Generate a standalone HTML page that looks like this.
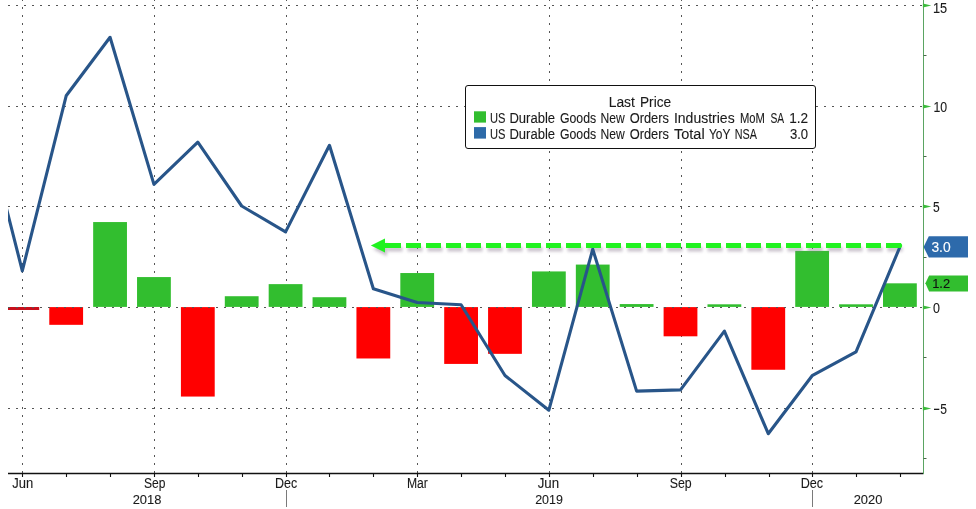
<!DOCTYPE html><html><head><meta charset="utf-8"><style>html,body{margin:0;padding:0;background:#fff;overflow:hidden}svg{display:block;will-change:transform}text{font-family:"Liberation Sans",sans-serif}</style></head><body>
<svg width="976" height="509" viewBox="0 0 976 509">
<defs><clipPath id="plot"><rect x="8" y="0" width="915.5" height="473"/></clipPath><filter id="sh" filterUnits="userSpaceOnUse" x="350" y="225" width="580" height="40"><feGaussianBlur stdDeviation="1.5"/></filter></defs>
<rect x="0" y="0" width="976" height="509" fill="#fff"/>
<line x1="22.5" y1="-1" x2="22.5" y2="473.0" stroke="#555" stroke-width="1" stroke-dasharray="2 6"/>
<line x1="154.5" y1="-1" x2="154.5" y2="473.0" stroke="#555" stroke-width="1" stroke-dasharray="2 6"/>
<line x1="286.5" y1="-1" x2="286.5" y2="473.0" stroke="#555" stroke-width="1" stroke-dasharray="2 6"/>
<line x1="417.5" y1="-1" x2="417.5" y2="473.0" stroke="#555" stroke-width="1" stroke-dasharray="2 6"/>
<line x1="549.5" y1="-1" x2="549.5" y2="473.0" stroke="#555" stroke-width="1" stroke-dasharray="2 6"/>
<line x1="681.5" y1="-1" x2="681.5" y2="473.0" stroke="#555" stroke-width="1" stroke-dasharray="2 6"/>
<line x1="812.5" y1="-1" x2="812.5" y2="473.0" stroke="#555" stroke-width="1" stroke-dasharray="2 6"/>
<g clip-path="url(#plot)">
<rect x="5.40" y="307.00" width="33.80" height="3.00" fill="#c8101c"/>
<rect x="49.28" y="307.10" width="33.80" height="17.73" fill="#ff0000"/>
<rect x="93.16" y="222.06" width="33.80" height="84.84" fill="#32be2f"/>
<rect x="137.04" y="277.07" width="33.80" height="29.83" fill="#32be2f"/>
<rect x="180.92" y="307.10" width="33.80" height="89.46" fill="#ff0000"/>
<rect x="224.80" y="296.22" width="33.80" height="10.68" fill="#32be2f"/>
<rect x="268.68" y="284.13" width="33.80" height="22.77" fill="#32be2f"/>
<rect x="312.56" y="297.22" width="33.80" height="9.68" fill="#32be2f"/>
<rect x="356.44" y="307.10" width="33.80" height="51.38" fill="#ff0000"/>
<rect x="400.32" y="273.04" width="33.80" height="33.86" fill="#32be2f"/>
<rect x="444.20" y="307.10" width="33.80" height="56.82" fill="#ff0000"/>
<rect x="488.08" y="307.10" width="33.80" height="46.74" fill="#ff0000"/>
<rect x="531.96" y="271.43" width="33.80" height="35.47" fill="#32be2f"/>
<rect x="575.84" y="264.58" width="33.80" height="42.32" fill="#32be2f"/>
<rect x="619.72" y="304.07" width="33.80" height="2.83" fill="#32be2f"/>
<rect x="663.60" y="307.10" width="33.80" height="29.21" fill="#ff0000"/>
<rect x="707.48" y="304.30" width="33.80" height="2.60" fill="#32be2f"/>
<rect x="751.36" y="307.10" width="33.80" height="62.66" fill="#ff0000"/>
<rect x="795.24" y="250.88" width="33.80" height="56.02" fill="#32be2f"/>
<rect x="839.12" y="304.30" width="33.80" height="2.60" fill="#32be2f"/>
<rect x="883.00" y="283.32" width="33.80" height="23.58" fill="#32be2f"/>
</g>
<line x1="8.0" y1="5.5" x2="923.5" y2="5.5" stroke="#555" stroke-width="1" stroke-dasharray="2 6"/>
<line x1="8.0" y1="106.5" x2="923.5" y2="106.5" stroke="#555" stroke-width="1" stroke-dasharray="2 6"/>
<line x1="8.0" y1="206.5" x2="923.5" y2="206.5" stroke="#555" stroke-width="1" stroke-dasharray="2 6"/>
<line x1="8.0" y1="307.5" x2="923.5" y2="307.5" stroke="#555" stroke-width="1" stroke-dasharray="2 6"/>
<line x1="8.0" y1="408.5" x2="923.5" y2="408.5" stroke="#555" stroke-width="1" stroke-dasharray="2 6"/>
<g filter="url(#sh)" opacity="0.45"><line x1="387.5" y1="249.3" x2="902.5" y2="249.3" stroke="#8a7890" stroke-width="4.5" stroke-dasharray="15 5"/><polygon points="373,249.3 387,242.4 387,256.2" fill="#8a7890"/></g>
<g clip-path="url(#plot)"><polyline fill="none" stroke="#285589" stroke-width="3.1" stroke-linejoin="round" points="0.00,183.00 22.30,270.80 66.18,95.80 110.06,37.30 153.94,184.40 197.82,142.20 241.70,206.00 285.58,231.90 329.46,145.30 373.34,288.80 417.22,302.50 461.10,304.70 504.98,375.50 548.86,410.20 592.74,249.20 636.62,391.10 680.50,389.90 724.38,331.10 768.26,433.70 812.14,375.70 856.02,351.80 899.90,247.00"/></g>
<line x1="386" y1="245.5" x2="901" y2="245.5" stroke="#20f220" stroke-width="5.2" stroke-dasharray="15 5"/>
<circle cx="899.5" cy="245.5" r="2.6" fill="#20f220"/>
<polygon points="370.9,245.5 385,238.6 385,242.9 386.5,242.9 386.5,248.1 385,248.1 385,252.4" fill="#20f220"/>
<line x1="8.0" y1="473.5" x2="923.5" y2="473.5" stroke="#111" stroke-width="1.4"/>
<line x1="22.5" y1="473.5" x2="22.5" y2="477" stroke="#111" stroke-width="1.1"/>
<line x1="66.5" y1="473.5" x2="66.5" y2="477" stroke="#111" stroke-width="1.1"/>
<line x1="110.5" y1="473.5" x2="110.5" y2="477" stroke="#111" stroke-width="1.1"/>
<line x1="154.5" y1="473.5" x2="154.5" y2="477" stroke="#111" stroke-width="1.1"/>
<line x1="198.5" y1="473.5" x2="198.5" y2="477" stroke="#111" stroke-width="1.1"/>
<line x1="242.5" y1="473.5" x2="242.5" y2="477" stroke="#111" stroke-width="1.1"/>
<line x1="286.5" y1="473.5" x2="286.5" y2="477" stroke="#111" stroke-width="1.1"/>
<line x1="329.5" y1="473.5" x2="329.5" y2="477" stroke="#111" stroke-width="1.1"/>
<line x1="373.5" y1="473.5" x2="373.5" y2="477" stroke="#111" stroke-width="1.1"/>
<line x1="417.5" y1="473.5" x2="417.5" y2="477" stroke="#111" stroke-width="1.1"/>
<line x1="461.5" y1="473.5" x2="461.5" y2="477" stroke="#111" stroke-width="1.1"/>
<line x1="505.5" y1="473.5" x2="505.5" y2="477" stroke="#111" stroke-width="1.1"/>
<line x1="549.5" y1="473.5" x2="549.5" y2="477" stroke="#111" stroke-width="1.1"/>
<line x1="593.5" y1="473.5" x2="593.5" y2="477" stroke="#111" stroke-width="1.1"/>
<line x1="637.5" y1="473.5" x2="637.5" y2="477" stroke="#111" stroke-width="1.1"/>
<line x1="681.5" y1="473.5" x2="681.5" y2="477" stroke="#111" stroke-width="1.1"/>
<line x1="725.5" y1="473.5" x2="725.5" y2="477" stroke="#111" stroke-width="1.1"/>
<line x1="769.5" y1="473.5" x2="769.5" y2="477" stroke="#111" stroke-width="1.1"/>
<line x1="812.5" y1="473.5" x2="812.5" y2="477" stroke="#111" stroke-width="1.1"/>
<line x1="856.5" y1="473.5" x2="856.5" y2="477" stroke="#111" stroke-width="1.1"/>
<line x1="900.5" y1="473.5" x2="900.5" y2="477" stroke="#111" stroke-width="1.1"/>
<line x1="923.5" y1="0" x2="923.5" y2="474.0" stroke="#5aa462" stroke-width="1"/>
<polygon points="922.9,3.6 931.3,5.5 922.9,7.4" fill="#3cba3c"/>
<polygon points="922.9,104.6 931.3,106.5 922.9,108.4" fill="#3cba3c"/>
<polygon points="922.9,204.6 931.3,206.5 922.9,208.4" fill="#3cba3c"/>
<polygon points="922.9,305.6 931.3,307.5 922.9,309.4" fill="#3cba3c"/>
<polygon points="922.9,406.6 931.3,408.5 922.9,410.4" fill="#3cba3c"/>
<line x1="923.5" y1="55.5" x2="926.5" y2="55.5" stroke="#4a6a4a" stroke-width="1"/>
<line x1="923.5" y1="156.5" x2="926.5" y2="156.5" stroke="#4a6a4a" stroke-width="1"/>
<line x1="923.5" y1="257.5" x2="926.5" y2="257.5" stroke="#4a6a4a" stroke-width="1"/>
<line x1="923.5" y1="357.5" x2="926.5" y2="357.5" stroke="#4a6a4a" stroke-width="1"/>
<line x1="923.5" y1="458.5" x2="926.5" y2="458.5" stroke="#4a6a4a" stroke-width="1"/>
<text x="932.95" y="12.6" font-size="13.8" lengthAdjust="spacingAndGlyphs" textLength="14.2" fill="#1a1a1a" stroke="#1a1a1a" stroke-width="0.1">15</text>
<text x="933.45" y="111.75" font-size="13.8" lengthAdjust="spacingAndGlyphs" textLength="13.7" fill="#1a1a1a" stroke="#1a1a1a" stroke-width="0.1">10</text>
<text x="932.95" y="211.55" font-size="13.8" lengthAdjust="spacingAndGlyphs" textLength="6.7" fill="#1a1a1a" stroke="#1a1a1a" stroke-width="0.1">5</text>
<text x="932.95" y="312.65" font-size="13.8" lengthAdjust="spacingAndGlyphs" textLength="6.95" fill="#1a1a1a" stroke="#1a1a1a" stroke-width="0.1">0</text>
<rect x="934" y="408.7" width="5.3" height="1.3" fill="#1a1a1a"/>
<text x="940.1500000000001" y="413.65" font-size="13.8" lengthAdjust="spacingAndGlyphs" textLength="6.7" fill="#1a1a1a" stroke="#1a1a1a" stroke-width="0.1">5</text>
<polygon points="923.6,246.9 928.8,236.2 968,236.2 968,257.5 928.8,257.5" fill="#2d6aab"/>
<text x="931.45" y="251.75" font-size="13.8" lengthAdjust="spacingAndGlyphs" textLength="19.2" fill="#fff" stroke="#fff" stroke-width="0.1">3.0</text>
<polygon points="925.4,283.2 929.1,275.4 968,275.4 968,291.6 929.1,291.6" fill="#32be2f"/>
<text x="932.2" y="288.05" font-size="13.4" lengthAdjust="spacingAndGlyphs" textLength="17.95" fill="#111" stroke="#111" stroke-width="0.1">1.2</text>
<text x="12.2" y="487.55" font-size="13.8" lengthAdjust="spacingAndGlyphs" textLength="20.95" fill="#1a1a1a" stroke="#1a1a1a" stroke-width="0.1">Jun</text>
<text x="143.95" y="487.55" font-size="13.8" lengthAdjust="spacingAndGlyphs" textLength="21.45" fill="#1a1a1a" stroke="#1a1a1a" stroke-width="0.1">Sep</text>
<text x="274.95" y="487.55" font-size="13.8" lengthAdjust="spacingAndGlyphs" textLength="22.2" fill="#1a1a1a" stroke="#1a1a1a" stroke-width="0.1">Dec</text>
<text x="406.95" y="487.55" font-size="13.8" lengthAdjust="spacingAndGlyphs" textLength="20.95" fill="#1a1a1a" stroke="#1a1a1a" stroke-width="0.1">Mar</text>
<text x="537.7" y="487.55" font-size="13.8" lengthAdjust="spacingAndGlyphs" textLength="21.45" fill="#1a1a1a" stroke="#1a1a1a" stroke-width="0.1">Jun</text>
<text x="669.7" y="487.55" font-size="13.8" lengthAdjust="spacingAndGlyphs" textLength="21.95" fill="#1a1a1a" stroke="#1a1a1a" stroke-width="0.1">Sep</text>
<text x="800.7" y="487.55" font-size="13.8" lengthAdjust="spacingAndGlyphs" textLength="22.45" fill="#1a1a1a" stroke="#1a1a1a" stroke-width="0.1">Dec</text>
<text x="132.7" y="503.6" font-size="13.6" lengthAdjust="spacingAndGlyphs" textLength="28.7" fill="#1a1a1a" stroke="#1a1a1a" stroke-width="0.1">2018</text>
<text x="535.2" y="503.6" font-size="13.6" lengthAdjust="spacingAndGlyphs" textLength="27.7" fill="#1a1a1a" stroke="#1a1a1a" stroke-width="0.1">2019</text>
<text x="853.7" y="503.6" font-size="13.6" lengthAdjust="spacingAndGlyphs" textLength="28.7" fill="#1a1a1a" stroke="#1a1a1a" stroke-width="0.1">2020</text>
<line x1="286.5" y1="490" x2="286.5" y2="507" stroke="#7a7a7a" stroke-width="1"/>
<line x1="812.5" y1="490" x2="812.5" y2="507" stroke="#7a7a7a" stroke-width="1"/>
<rect x="465.5" y="85.5" width="350" height="63" rx="2.5" ry="2.5" fill="#fff" stroke="#111" stroke-width="1"/>
<text x="608.7" y="106.6" font-size="13.8" lengthAdjust="spacingAndGlyphs" textLength="26.2" fill="#1a1a1a" stroke="#1a1a1a" stroke-width="0.1">Last</text>
<text x="639.95" y="106.6" font-size="13.8" lengthAdjust="spacingAndGlyphs" textLength="31.2" fill="#1a1a1a" stroke="#1a1a1a" stroke-width="0.1">Price</text>
<rect x="474" y="111.3" width="12" height="11.3" fill="#32be2f"/>
<rect x="474" y="127.1" width="12" height="11.5" fill="#2d6aa8"/>
<text x="489.95" y="122.65" font-size="13.8" lengthAdjust="spacingAndGlyphs" textLength="15.45" fill="#1a1a1a" stroke="#1a1a1a" stroke-width="0.1">US</text>
<text x="509.45" y="122.65" font-size="13.8" lengthAdjust="spacingAndGlyphs" textLength="45.7" fill="#1a1a1a" stroke="#1a1a1a" stroke-width="0.1">Durable</text>
<text x="559.95" y="122.65" font-size="13.8" lengthAdjust="spacingAndGlyphs" textLength="36.2" fill="#1a1a1a" stroke="#1a1a1a" stroke-width="0.1">Goods</text>
<text x="600.45" y="122.65" font-size="13.8" lengthAdjust="spacingAndGlyphs" textLength="24.2" fill="#1a1a1a" stroke="#1a1a1a" stroke-width="0.1">New</text>
<text x="629.7" y="122.65" font-size="13.8" lengthAdjust="spacingAndGlyphs" textLength="39.2" fill="#1a1a1a" stroke="#1a1a1a" stroke-width="0.1">Orders</text>
<text x="673.95" y="122.65" font-size="13.8" lengthAdjust="spacingAndGlyphs" textLength="60.7" fill="#1a1a1a" stroke="#1a1a1a" stroke-width="0.1">Industries</text>
<text x="739.95" y="122.65" font-size="13.8" lengthAdjust="spacingAndGlyphs" textLength="24.95" fill="#1a1a1a" stroke="#1a1a1a" stroke-width="0.1">MoM</text>
<text x="770.45" y="122.65" font-size="13.8" lengthAdjust="spacingAndGlyphs" textLength="13.7" fill="#1a1a1a" stroke="#1a1a1a" stroke-width="0.1">SA</text>
<text x="789.2" y="122.9" font-size="13.8" lengthAdjust="spacingAndGlyphs" textLength="18.95" fill="#1a1a1a" stroke="#1a1a1a" stroke-width="0.1">1.2</text>
<text x="489.95" y="138.6" font-size="13.8" lengthAdjust="spacingAndGlyphs" textLength="15.45" fill="#1a1a1a" stroke="#1a1a1a" stroke-width="0.1">US</text>
<text x="509.45" y="138.6" font-size="13.8" lengthAdjust="spacingAndGlyphs" textLength="45.7" fill="#1a1a1a" stroke="#1a1a1a" stroke-width="0.1">Durable</text>
<text x="559.95" y="138.6" font-size="13.8" lengthAdjust="spacingAndGlyphs" textLength="36.2" fill="#1a1a1a" stroke="#1a1a1a" stroke-width="0.1">Goods</text>
<text x="600.45" y="138.6" font-size="13.8" lengthAdjust="spacingAndGlyphs" textLength="24.2" fill="#1a1a1a" stroke="#1a1a1a" stroke-width="0.1">New</text>
<text x="629.7" y="138.6" font-size="13.8" lengthAdjust="spacingAndGlyphs" textLength="39.2" fill="#1a1a1a" stroke="#1a1a1a" stroke-width="0.1">Orders</text>
<text x="673.95" y="138.6" font-size="13.8" lengthAdjust="spacingAndGlyphs" textLength="30.7" fill="#1a1a1a" stroke="#1a1a1a" stroke-width="0.1">Total</text>
<text x="708.95" y="138.6" font-size="13.8" lengthAdjust="spacingAndGlyphs" textLength="21.45" fill="#1a1a1a" stroke="#1a1a1a" stroke-width="0.1">YoY</text>
<text x="734.7" y="138.6" font-size="13.8" lengthAdjust="spacingAndGlyphs" textLength="22.2" fill="#1a1a1a" stroke="#1a1a1a" stroke-width="0.1">NSA</text>
<text x="789.95" y="138.6" font-size="13.8" lengthAdjust="spacingAndGlyphs" textLength="18.2" fill="#1a1a1a" stroke="#1a1a1a" stroke-width="0.1">3.0</text>
</svg></body></html>
